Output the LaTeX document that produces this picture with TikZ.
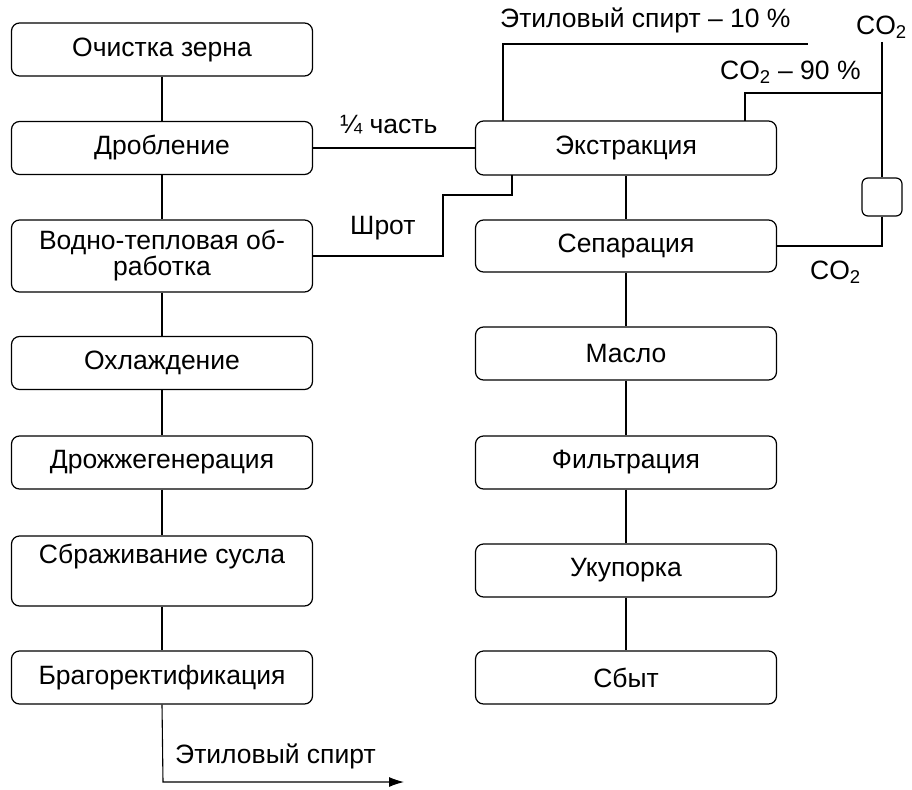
\documentclass[tikz,border=0pt]{standalone}
\usepackage{fontspec}
\setmainfont{Liberation Sans}
\usetikzlibrary{arrows.meta}
\tikzset{
  stage/.style={draw, rounded corners=8pt, line width=1.2pt, minimum width=301pt,
    minimum height=53pt, inner sep=0pt, align=center, font=\fontsize{26.5}{26}\selectfont},
  valve/.style={draw, rounded corners=6pt, line width=1.2pt, minimum width=40pt,
    minimum height=38pt, inner sep=0pt},
  flow/.style={line width=1.1pt},
  note/.style={inner sep=0pt, font=\fontsize{26.5}{28}\selectfont},
}
\newcommand{\cotwo}{CO\textsubscript{2}}
\begin{document}
\begin{tikzpicture}[x=1pt, y=-1pt]
\useasboundingbox (0,0) rectangle (912,789);

% grain line
\node[stage] (o1) at (162,49.5) {Очистка зерна};
\node[stage] (o2) at (162,148) {Дробление};
\node[stage, minimum height=72pt] (o3) at (162,256) {Водно-тепловая об-\\работка};
\node[stage] (o4) at (162,363) {Охлаждение};
\node[stage] (o5) at (162,462.5) {Дрожжегенерация};
\node[stage, minimum height=70pt] (o6) at (162,571) {Сбраживание сусла\\\strut};
\node[stage] (o7) at (162,677.5) {Брагоректификация};

% oil line
\node[stage, minimum height=54pt] (e) at (626,148) {Экстракция};
\node[stage, minimum height=52pt] (s) at (626,246) {Сепарация};
\node[stage] (m) at (626,353.5) {Масло};
\node[stage] (f) at (626,462.5) {Фильтрация};
\node[stage] (u) at (626,570.5) {Укупорка};
\node[stage] (sb) at (626,677.5) {Сбыт};

\node[valve] (v) at (882,197) {};

% vertical links
\foreach \a/\b in {o1/o2, o2/o3, o3/o4, o4/o5, o5/o6, o6/o7, e/s, s/m, m/f, f/u, u/sb}
  \draw[flow] (\a) -- (\b);

% cross links
\draw[flow] (o2.east) -- (e.west);
\draw[flow] (o3.east) -- (443,256) -- (443,195) -- (512,195) -- (512,175);

% solvent outlets from extraction
\coordinate (eth) at (808,44);
\draw[flow] (503,121) -- (503,44) -- (eth);
\coordinate (co2top) at (882,42);
\draw[flow] (745,121) -- (745,93) -- (882,93);
\draw[flow] (co2top) -- (v.north);
\draw[flow] (v.south) -- (882,246) -- (s.east);

% ethanol product
\coordinate (out) at (404,782);
\draw[flow, -{Latex[length=15pt, width=10pt]}] (o7.south) -- (163,782) -- (out);

% labels
\node[note, anchor=west] (l1) at (500,20) {Этиловый спирт – 10 \%};
\node[note, anchor=east] (l2) at (907,27) {\cotwo};
\node[note, anchor=west] (l3) at (720,72) {\cotwo{} – 90 \%};
\node[note, anchor=west] (l4) at (340,125) {¼ часть};
\node[note, anchor=west] (l5) at (350,228) {Шрот};
\node[note, anchor=west] (l6) at (810,272) {\cotwo};
\node[note, anchor=west] (l7) at (175,756) {Этиловый спирт};
\end{tikzpicture}
\end{document}
